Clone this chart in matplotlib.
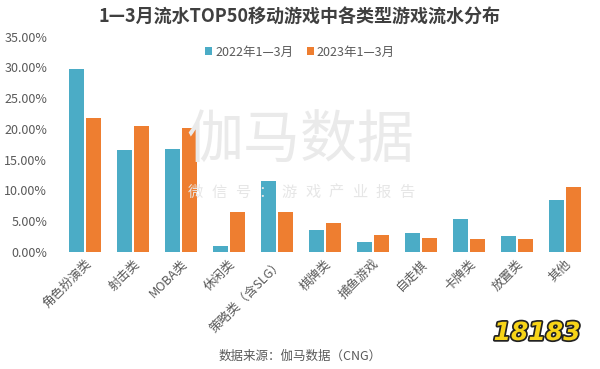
import matplotlib
matplotlib.use("Agg")
import matplotlib.pyplot as plt
import matplotlib.patheffects as pe
from matplotlib.patches import Patch
import numpy as np

plt.rcParams['font.family'] = ['Noto Sans CJK SC', 'DejaVu Sans']

categories = ["角色扮演类", "射击类", "MOBA类", "休闲类", "策略类（含SLG）", "棋牌类",
              "捕鱼游戏", "自走棋", "卡牌类", "放置类", "其他"]
share_2022 = [29.7, 16.6, 16.8, 0.9, 11.5, 3.5, 1.5, 3.0, 5.3, 2.6, 8.4]
share_2023 = [21.7, 20.4, 20.2, 6.5, 6.4, 4.7, 2.8, 2.3, 2.1, 2.0, 10.6]
series_labels = ["2022年1—3月", "2023年1—3月"]
yticks = [0, 5, 10, 15, 20, 25, 30, 35]

blue = "#4BACC6"
orange = "#EE7E30"
gray = "#595959"

fig = plt.figure(figsize=(6.0, 3.69), dpi=100)
ax = fig.add_axes([61/600, 1-251.7/369, 527.5/600, (251.7-36.7)/369])

x = np.arange(len(categories))
w = 0.313
off = 0.177
ax.bar(x - off, share_2022, width=w, color=blue, zorder=3)
ax.bar(x + off, share_2023, width=w, color=orange, zorder=3)

ax.set_xlim(-0.5, len(categories) - 0.5)
ax.set_ylim(0, 35)
ax.set_yticks(yticks)
ax.set_yticklabels([f"{v:.2f}%" for v in yticks], fontsize=9, color=gray)
ax.tick_params(axis='y', length=0, pad=10)
ax.tick_params(axis='x', length=0, pad=4)
ax.set_xticks(x)
ax.set_xticklabels(categories, rotation=45, ha='right', va='top',
                   rotation_mode='anchor', fontsize=9, color=gray)
for s in ax.spines.values():
    s.set_visible(False)
ax.patch.set_alpha(0)

# title
fig.text(0.5, 1-17/369, "1—3月流水TOP50移动游戏中各类型游戏流水分布",
         ha='center', va='center', fontsize=13, fontweight='bold', color="#3F3F3F")

# legend
handles = [Patch(facecolor=blue), Patch(facecolor=orange)]
fig.legend(handles, series_labels, loc='center', bbox_to_anchor=(0.5, 1-52/369),
           ncol=2, frameon=False, fontsize=9, labelcolor=gray,
           handlelength=0.55, handleheight=0.55, handletextpad=0.25,
           columnspacing=1.1, borderpad=0)

# watermark
fig.text(0.5, 1-142/369, "伽马数据", ha='center', va='center', fontsize=41,
         color="#EAEAEA", zorder=0)
wm = "微信号：游戏产业报告"
for i, ch in enumerate(wm):
    fig.text((301 + (i - 4.5) * 23.5) / 600, 1-192/369, ch, ha='center', va='center',
             fontsize=11, color="#E6E6E6", zorder=0)

# source
fig.text(0.5, 1-356/369, "数据来源：伽马数据（CNG）", ha='center', va='center',
         fontsize=9, color=gray)

# logo
fig.text(537/600, 1-333/369, "18183", ha='center', va='center', fontsize=18,
         fontweight='bold', style='italic', color="#F7D417", family='DejaVu Sans',
         path_effects=[pe.withStroke(linewidth=2.5, foreground="#222222")])

fig.savefig("out.png", dpi=100)
